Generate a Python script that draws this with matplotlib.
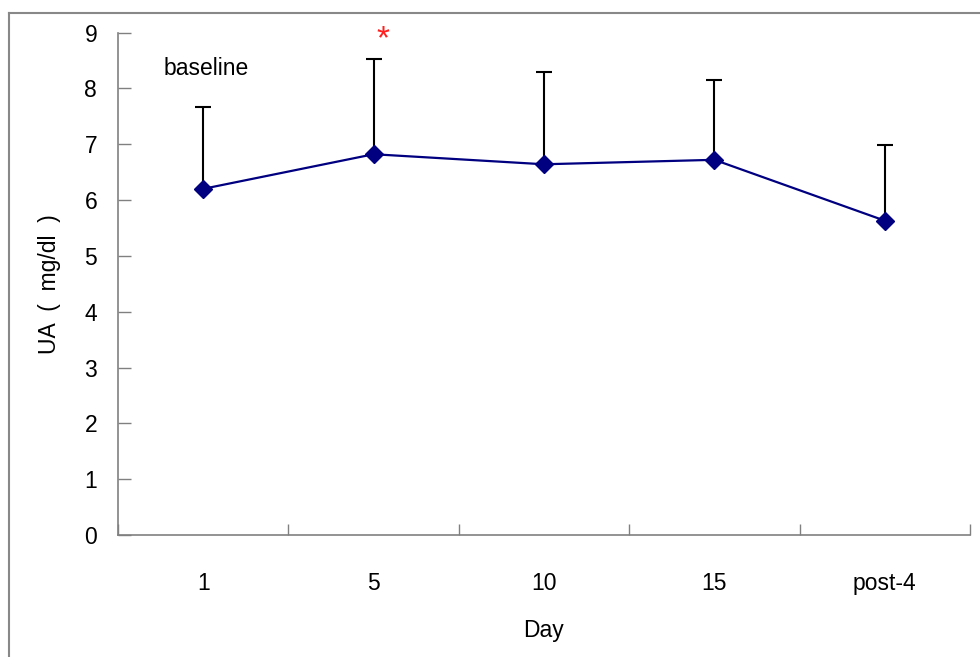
import matplotlib
matplotlib.use('Agg')
import matplotlib.pyplot as plt
import numpy as np
from matplotlib.lines import Line2D

plt.rcParams['font.family'] = ['Liberation Sans', 'Noto Sans CJK SC', 'DejaVu Sans']

# data
days = ['1', '5', '10', '15', 'post-4']
ua_mean = [6.20, 6.82, 6.64, 6.72, 5.63]
ua_sd = [1.47, 1.70, 1.65, 1.43, 1.36]

x = np.arange(1, len(days) + 1)
tops = np.array(ua_mean) + np.array(ua_sd)
axis_grey = '#808080'
fs = 16.5

fig = plt.figure(figsize=(9.8, 6.57), dpi=100)
ax = fig.add_axes([0.1204, 0.1857, 0.8694, 0.7648])

# upper error bar only, cap at the top
ax.vlines(x, ua_mean, tops, color='black', lw=1.5, zorder=2)
ax.plot(x, tops, ls='none', marker='_', ms=11.5, mew=1.5, color='black', zorder=2)
ax.plot(x, ua_mean, color='#000080', lw=1.6, marker='D', ms=9,
        mfc='#000080', mec='#000080', zorder=3)

ax.set_xlim(0.5, len(days) + 0.5)
ax.set_ylim(0, 9)
ax.set_yticks(np.arange(0, 10, 1))
ax.set_xticks(x)
ax.set_xticklabels(days)
ax.set_xticks(np.arange(0.5, len(days) + 1, 1), minor=True)

ax.tick_params(axis='y', direction='in', length=9, width=1, color=axis_grey,
               labelsize=fs, pad=15)
ax.tick_params(axis='x', which='major', length=0, labelsize=fs, pad=27)
ax.tick_params(axis='x', which='minor', direction='in', length=8, width=1,
               color=axis_grey)

for s in ['top', 'right']:
    ax.spines[s].set_visible(False)
for s in ['left', 'bottom']:
    ax.spines[s].set_color(axis_grey)
    ax.spines[s].set_linewidth(1.2)

ax.set_xlabel('Day', fontsize=fs, labelpad=17)
ax.set_ylabel('UA  (  mg/dl  )', fontsize=fs, labelpad=17)

ax.text(1.02, 8.36, 'baseline', fontsize=fs, ha='center', va='center')
ax.annotate('*', xy=(2, tops[1]), xytext=(7, 14),
            textcoords='offset points', ha='center', va='center',
            color='#ff2020', fontsize=24, annotation_clip=False)

# grey frame round the chart (left and top edges only show)
fig.add_artist(Line2D([9 / 980, 9 / 980], [0, 1 - 13 / 657],
                      transform=fig.transFigure, color='#888888', lw=1.5))
fig.add_artist(Line2D([9 / 980, 1], [1 - 13 / 657, 1 - 13 / 657],
                      transform=fig.transFigure, color='#888888', lw=1.5))

plt.savefig('out.png', dpi=100)
